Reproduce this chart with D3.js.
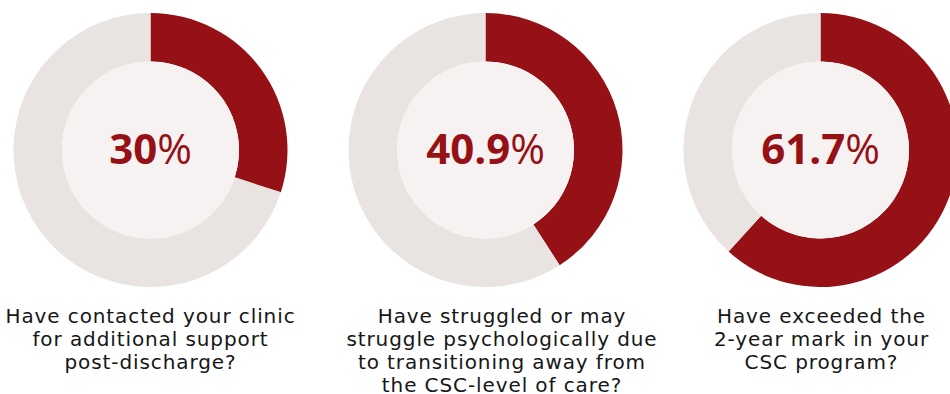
<!DOCTYPE html>
<html>
<head>
<meta charset="utf-8">
<script src="https://cdn.jsdelivr.net/npm/d3@7"></script>
<style>
  html, body { margin: 0; padding: 0; background: #ffffff; }
  svg { display: block; }
</style>
</head>
<body>
<svg id="chart" width="950" height="394"></svg>
<script>
const values = [30, 40.9, 61.7];
const valueLabels = ["30", "40.9", "61.7"];
const labelLines = [
  ["Have contacted your clinic", "for additional support", "post-discharge?"],
  ["Have struggled or may", "struggle psychologically due", "to transitioning away from", "the CSC-level of care?"],
  ["Have exceeded the", "2-year mark in your", "CSC program?"]
];

const svg = d3.select("#chart");
const x = d3.scalePoint().domain(d3.range(values.length)).range([150.5, 820.5]);
// label columns are not exactly centred under the rings
const labelX = d3.scalePoint().domain(d3.range(values.length)).range([150.5, 821.5]);
const labelNudge = [0, 16, 0];
const cy = 150;
const outerR = 137, innerR = 88.5;
const red = "#961115", bg = "#e9e3e2", inner = "#f7f2f2";

const pie = d3.pie().sort(null).value(d => d);
const arc = d3.arc().innerRadius(innerR).outerRadius(outerR);

values.forEach((v, i) => {
  const g = svg.append("g").attr("transform", `translate(${x(i)},${cy})`);
  const arcs = pie([v, 100 - v]);
  g.selectAll("path").data(arcs).join("path")
    .attr("d", arc)
    .attr("fill", (d, j) => j === 0 ? red : bg);
  g.append("circle").attr("r", innerR).attr("fill", inner);
  const t = g.append("text")
    .attr("text-anchor", "middle")
    .attr("y", 14)
    .attr("fill", red)
    .style("font-family", "'Open Sans', sans-serif")
    .style("font-size", "42px")
    .style("font-weight", 700);
  t.append("tspan").text(valueLabels[i]);
  t.append("tspan").style("font-weight", 500).text("%");

  const lx = labelX(i) + labelNudge[i];
  const lt = svg.append("text")
    .attr("text-anchor", "middle")
    .attr("fill", "#161616")
    .style("font-family", "'DejaVu Sans', sans-serif")
    .style("font-size", "20px")
    .style("letter-spacing", "0.9px");
  labelLines[i].forEach((line, k) => {
    lt.append("tspan").attr("x", lx).attr("y", 323 + k * 23).text(line);
  });
});
</script>
</body>
</html>
